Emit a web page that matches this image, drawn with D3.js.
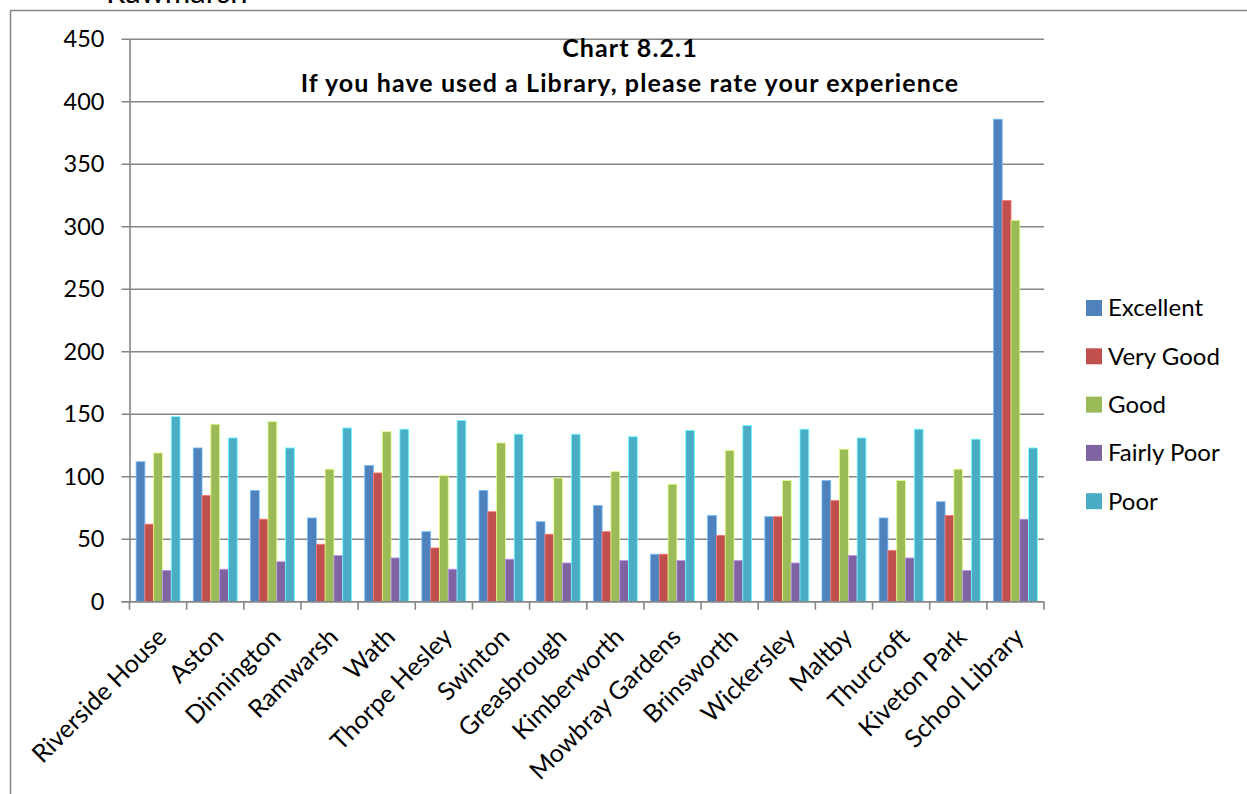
<!DOCTYPE html>
<html>
<head>
<meta charset="utf-8">
<script src="https://cdn.jsdelivr.net/npm/d3@7"></script>
<style>
  html, body { margin: 0; padding: 0; background: #fff; }
  svg { display: block; font-family: Lato, "Liberation Sans", sans-serif; }
</style>
</head>
<body>
<svg id="chart" width="1247" height="794"></svg>
<script>
// Libraries (categories along the x axis)
const libraries = [
  "Riverside House", "Aston", "Dinnington", "Ramwarsh", "Wath", "Thorpe Hesley",
  "Swinton", "Greasbrough", "Kimberworth", "Mowbray Gardens", "Brinsworth",
  "Wickersley", "Maltby", "Thurcroft", "Kiveton Park", "School Library"
];

// Rating series, one value per library
const seriesNames = ["Excellent", "Very Good", "Good", "Fairly Poor", "Poor"];
const excellent  = [112, 123,  89,  67, 109,  56,  89,  64,  77,  38,  69,  68,  97,  67,  80, 386];
const veryGood   = [ 62,  85,  66,  46, 103,  43,  72,  54,  56,  38,  53,  68,  81,  41,  69, 321];
const good       = [119, 142, 144, 106, 136, 101, 127,  99, 104,  94, 121,  97, 122,  97, 106, 305];
const fairlyPoor = [ 25,  26,  32,  37,  35,  26,  34,  31,  33,  33,  33,  31,  37,  35,  25,  66];
const poor       = [148, 131, 123, 139, 138, 145, 134, 134, 132, 137, 141, 138, 131, 138, 130, 123];
const seriesValues = [excellent, veryGood, good, fairlyPoor, poor];
const seriesColors = ["#4F81BD", "#C0504D", "#9BBB59", "#8064A2", "#4BACC6"];

// Value axis ticks
const yTicks = [0, 50, 100, 150, 200, 250, 300, 350, 400, 450];

const titleLines = ["Chart 8.2.1", "If you have used a Library, please rate your experience"];

const svg = d3.select("#chart");
const gridColor = "#868686";

// Surrounding frame from the page this chart sits in
svg.append("text")
  .attr("x", 106).attr("y", 3)
  .attr("font-size", 31).attr("fill", "#000")
  .text("Rawmarsh");
svg.append("path")
  .attr("d", "M10.5,794 V10.5 H1247")
  .attr("fill", "none").attr("stroke", gridColor).attr("stroke-width", 1.5);

// Plot area
const plot = { left: 129.5, right: 1044, top: 39.2, bottom: 601.7 };

const x0 = d3.scaleBand().domain(libraries).range([plot.left, plot.right]).padding(0);
const bw = x0.bandwidth();
// 150% gap width between groups
const x1 = d3.scaleBand().domain(seriesNames)
  .range([bw * 0.75 / 6.5, bw * 5.75 / 6.5]).padding(0);
const y = d3.scaleLinear().domain([0, 450]).range([plot.bottom, plot.top]);

// Horizontal gridlines (extending left as tick marks)
svg.append("g").selectAll("line")
  .data(yTicks)
  .join("line")
  .attr("x1", plot.left - 8).attr("x2", plot.right)
  .attr("y1", d => y(d)).attr("y2", d => y(d))
  .attr("stroke", gridColor).attr("stroke-width", 1.6);

// Value axis
const yAxis = svg.append("g")
  .attr("transform", `translate(${plot.left},0)`)
  .call(d3.axisLeft(y).tickValues(yTicks).tickSize(0).tickPadding(25));
yAxis.select(".domain").attr("stroke", gridColor).attr("stroke-width", 1.6);
yAxis.selectAll("text")
  .attr("font-family", "Lato, sans-serif")
  .attr("font-size", 23.5).attr("fill", "#000");

// Bars
const groups = svg.append("g").selectAll("g")
  .data(libraries)
  .join("g")
  .attr("transform", d => `translate(${x0(d)},0)`);

groups.selectAll("rect")
  .data((lib, i) => seriesNames.map((s, k) => ({ s, k, v: seriesValues[k][i] })))
  .join("rect")
  .attr("x", d => x1(d.s))
  .attr("width", x1.bandwidth())
  .attr("y", d => y(d.v))
  .attr("height", d => y(0) - y(d.v))
  .attr("fill", d => seriesColors[d.k])
  .attr("stroke", d => d3.color(seriesColors[d.k]).brighter(1.1))
  .attr("stroke-width", 0.8);

// Category axis
const xAxis = svg.append("g")
  .attr("transform", `translate(0,${plot.bottom})`)
  .call(d3.axisBottom(x0).tickSize(0).tickFormat(""));
xAxis.select(".domain").remove();
svg.append("line")
  .attr("x1", plot.left - 8).attr("x2", plot.right)
  .attr("y1", plot.bottom).attr("y2", plot.bottom)
  .attr("stroke", gridColor).attr("stroke-width", 1.6);

// Tick marks at category boundaries
const boundaries = libraries.map(d => x0(d)).concat([plot.right]);
svg.append("g").selectAll("line")
  .data(boundaries)
  .join("line")
  .attr("x1", d => d).attr("x2", d => d)
  .attr("y1", plot.bottom).attr("y2", plot.bottom + 8)
  .attr("stroke", gridColor).attr("stroke-width", 1.6);

// Rotated category labels
svg.append("g").selectAll("text")
  .data(libraries)
  .join("text")
  .attr("transform", d => `translate(${x0(d) + bw / 2 + 10},${plot.bottom + 37}) rotate(-45)`)
  .attr("text-anchor", "end")
  .attr("font-size", 25).attr("fill", "#000")
  .text(d => d);

// Title
svg.append("text")
  .attr("x", 630).attr("y", 57)
  .attr("text-anchor", "middle")
  .attr("font-size", 25).attr("font-weight", "bold").attr("fill", "#000")
  .attr("letter-spacing", 1.1)
  .selectAll("tspan")
  .data(titleLines)
  .join("tspan")
  .attr("x", 630)
  .attr("dy", (d, i) => i === 0 ? 0 : 35)
  .text(d => d);

// Legend
const legend = svg.append("g").selectAll("g")
  .data(seriesNames)
  .join("g")
  .attr("transform", (d, i) => `translate(1086,${308 + i * 48.3})`);
legend.append("rect")
  .attr("x", 0).attr("y", -8).attr("width", 16).attr("height", 16)
  .attr("fill", (d, i) => seriesColors[i]);
legend.append("text")
  .attr("x", 22).attr("y", 0).attr("dy", "0.35em")
  .attr("font-size", 24).attr("fill", "#000")
  .text(d => d);
</script>
</body>
</html>
